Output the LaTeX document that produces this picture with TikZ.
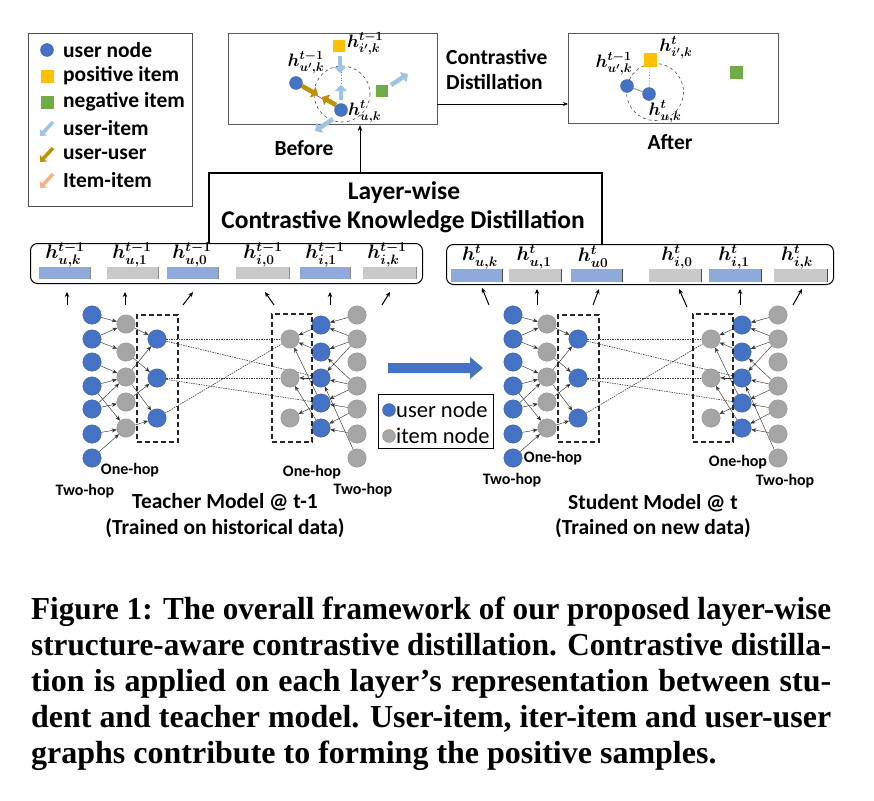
\RequirePackage{fix-cm}
\documentclass[tikz,border=0pt]{standalone}
\usepackage{fontspec}
\setsansfont{Carlito}
\newfontfamily\capfont{Liberation Serif}
\usetikzlibrary{arrows.meta,backgrounds}
\definecolor{ublue}{HTML}{4472C4}
\definecolor{igray}{HTML}{A5A5A5}
\definecolor{barblue}{HTML}{8EA9DB}
\definecolor{bargray}{HTML}{C9C9C9}
\definecolor{posyel}{HTML}{FFC000}
\definecolor{neggreen}{HTML}{70AD47}
\definecolor{uiarrow}{HTML}{9DC3E6}
\definecolor{uuarrow}{HTML}{BF9000}
\definecolor{iiarrow}{HTML}{F4B183}
\tikzset{
  unode/.style={circle,fill=ublue,draw=ublue!80!black,line width=0.3pt,minimum size=18.5pt,inner sep=0pt},
  inode/.style={circle,fill=igray,draw=igray!85!black,line width=0.3pt,minimum size=18.5pt,inner sep=0pt},
  sunode/.style={circle,fill=ublue,draw=ublue!80!black,line width=0.3pt,minimum size=13pt,inner sep=0pt},
  sinode/.style={circle,fill=igray,draw=igray!85!black,line width=0.3pt,minimum size=13pt,inner sep=0pt},
  gedge/.style={line width=0.45pt,draw=black!80,-{Stealth[length=5pt,width=4pt]}},
  crossline/.style={line width=0.65pt,draw=black!75,dash pattern=on 1.5pt off 1pt},
  dashbox/.style={draw=black!85,line width=1.6pt,dash pattern=on 5pt off 3pt,inner sep=0pt},
  lbl/.style={font=\sffamily\bfseries\fontsize{21.5}{24}\selectfont,inner sep=0pt},
  hop/.style={font=\sffamily\bfseries\fontsize{16}{18}\selectfont,inner sep=0pt},
  mlbl/.style={font=\fontsize{19.5}{21}\selectfont\boldmath,inner sep=0pt},
  smlbl/.style={font=\fontsize{18}{20}\selectfont\boldmath,inner sep=0pt},
  uparrow/.style={line width=1pt,-{Stealth[length=5pt,width=4.5pt]}},
  fatarrow/.style={line width=4.5pt,-{Triangle[length=6pt,width=12pt]}},
  smallfat/.style={line width=3.5pt,-{Triangle[length=5pt,width=9pt]}},
  sq/.style={rectangle,minimum size=12.5pt,inner sep=0pt},
  barb/.style={fill=barblue},
  barg/.style={fill=bargray},
  capline/.style={anchor=base west,inner sep=0pt,font=\capfont\bfseries\fontsize{32}{35}\selectfont},
}
\newsavebox{\capbox}
\newcommand{\capfit}[1]{%
  \sbox{\capbox}{#1}%
  \ifdim\wd\capbox>800pt
    \pgfmathsetmacro{\capsx}{800/\wd\capbox}%
    \scalebox{\capsx}[1]{\usebox{\capbox}}%
  \else
    \hbox to 800pt{#1}%
  \fi}
\newcommand{\gnnpart}[1]{%
  \foreach \yy [count=\i] in {315,339,362,386,409,434,458} {\node[unode] (#1a\i) at (92,\yy) {};}
  \foreach \yy [count=\i] in {324,352,377,402,428} {\node[inode] (#1b\i) at (126,\yy) {};}
  \foreach \yy [count=\i] in {339,378,418} {\node[unode] (#1c\i) at (157,\yy) {};}
  \foreach \yy [count=\i] in {339,378,418} {\node[inode] (#1d\i) at (290,\yy) {};}
  \foreach \yy [count=\i] in {325,352,378,403,428} {\node[unode] (#1e\i) at (321,\yy) {};}
  \foreach \yy [count=\i] in {315,339,362,386,409,434,458} {\node[inode] (#1f\i) at (357,\yy) {};}
  \node[dashbox,minimum width=41pt,minimum height=127pt] (#1lbox) at (157.5,378.5) {};
  \node[dashbox,minimum width=40pt,minimum height=128pt] (#1rbox) at (292,378) {};
  \begin{pgfonlayer}{background}
    \foreach \s/\t in {a1/b1,a2/b1,a2/b2,a3/b3,a4/b3,a5/b3,a4/b5,a6/b5,a7/b5,a5/b4,
                       b1/c1,b3/c1,b2/c2,b4/c2,b3/c3,b5/c3,
                       e1/d1,e2/d1,e4/d1,e3/d2,e5/d2,e4/d3,
                       f1/e1,f2/e1,f2/e2,f2/e3,f4/e2,f4/e3,f7/e3,f4/e4,f5/e4,f5/e5,f6/e5}
      {\draw[gedge] (#1\s) -- (#1\t);}
    \foreach \s/\t in {c1/d1,c1/e3,c2/d2,c2/e4,c3/d1}
      {\draw[crossline] (#1\s) -- (#1\t);}
  \end{pgfonlayer}
}
\begin{document}
\begin{tikzpicture}[x=1pt,y=-1pt]
\useasboundingbox (0,0) rectangle (874,800);
\begin{pgfonlayer}{background}
\fill[white] (0,0) rectangle (874,800);
\end{pgfonlayer}

% ---------- legend (top left)
\node[draw=black!70,line width=1.2pt,minimum width=164pt,minimum height=173pt,anchor=north west,inner sep=0pt] (legend) at (28,33) {};
\node[sunode] (lgu) at (47,50) {};
\node[sq,fill=posyel,minimum size=13pt] (lgp) at (47,76) {};
\node[sq,fill=neggreen,minimum size=13pt] (lgn) at (47,102) {};
\coordinate (lgui1) at (53,122); \coordinate (lgui2) at (40,136);
\coordinate (lguu1) at (53,148); \coordinate (lguu2) at (40,162);
\coordinate (lgii1) at (53,174); \coordinate (lgii2) at (40,188);
\draw[smallfat,uiarrow] (lgui1) -- (lgui2);
\draw[smallfat,uuarrow] (lguu1) -- (lguu2);
\draw[smallfat,iiarrow] (lgii1) -- (lgii2);
\node[lbl,anchor=west] (lt1) at (63,50) {user node};
\node[lbl,anchor=west] (lt2) at (63,76) {positive item};
\node[lbl,anchor=west] (lt3) at (63,102) {negative item};
\node[lbl,anchor=west] (lt4) at (63,128) {user-item};
\node[lbl,anchor=west] (lt5) at (63,154) {user-user};
\node[lbl,anchor=west] (lt6) at (63,180) {Item-item};

% ---------- Before box
\node[draw=black!65,line width=1pt,minimum width=209pt,minimum height=91pt,anchor=north west,inner sep=0pt] (before) at (228,33) {};
\draw[black!70,dashed,line width=0.6pt] (342,94) circle (28);
\node[sq,fill=posyel] (bpos) at (339,46) {};
\node[sq,fill=neggreen] (bneg) at (382,91) {};
\node[sunode] (bup) at (296,83) {};
\node[sunode] (bu) at (341,110) {};
\draw[violet,line width=0.5pt] (bup) -- (bu);
\coordinate (bd1) at (341,72); \coordinate (bd2) at (341,87);
\draw[black!50,dotted,line width=0.8pt] (bd1) -- (bd2);
\coordinate (ba1) at (340,56); \coordinate (ba2) at (340,73);
\coordinate (ba3) at (341,100); \coordinate (ba4) at (341,85);
\coordinate (ba5) at (391,85); \coordinate (ba6) at (408,74);
\coordinate (ba7) at (333,119); \coordinate (ba8) at (315,131);
\draw[fatarrow,uiarrow] (ba1) -- (ba2);
\draw[fatarrow,uiarrow] (ba3) -- (ba4);
\draw[fatarrow,uiarrow] (ba5) -- (ba6);
\draw[fatarrow,uiarrow] (ba7) -- (ba8);
\coordinate (bb1) at (302,86); \coordinate (bb2) at (318,95);
\coordinate (bb3) at (336,105); \coordinate (bb4) at (322,97);
\draw[fatarrow,uuarrow] (bb1) -- (bb2);
\draw[fatarrow,uuarrow] (bb3) -- (bb4);
\node[smlbl,anchor=west] (bl1) at (347,44) {$h^{t-1}_{i',k}$};
\node[smlbl] (bl2) at (306,63) {$h^{t-1}_{u',k}$};
\node[smlbl,anchor=west] (bl3) at (348,112) {$h^{t}_{u,k}$};
\node[lbl] (beforet) at (304,148) {Before};

% ---------- After box
\node[draw=black!65,line width=1pt,minimum width=210pt,minimum height=90pt,anchor=north west,inner sep=0pt] (after) at (568,33) {};
\draw[black!70,dashed,line width=0.6pt] (655,92) circle (28.5);
\node[sunode] (aup) at (627,86) {};
\node[sunode] (au) at (649,94) {};
\draw[black!40,line width=1pt] (aup) -- (au);
\node[sq,fill=posyel,minimum size=13pt] (apos) at (650,60) {};
\draw[black!50,dotted,line width=0.8pt] (apos) -- (au);
\node[sq,fill=neggreen,minimum size=13pt] (aneg) at (736,72) {};
\node[smlbl] (al1) at (676,48) {$h^{t}_{i',k}$};
\node[smlbl] (al2) at (614,64) {$h^{t-1}_{u',k}$};
\node[smlbl] (al3) at (665,112) {$h^{t}_{u,k}$};
\node[lbl] (aftert) at (670,142) {After};

% ---------- contrastive distillation arrow
\coordinate (cdA) at (437,104); \coordinate (cdB) at (568,104);
\draw[line width=0.9pt,-{Stealth[length=5pt,width=4pt]}] (cdA) -- (cdB);
\node[lbl,anchor=west] (cd1) at (446,57) {Contrastive};
\node[lbl,anchor=west] (cd2) at (446,82) {Distillation};

% ---------- layer-wise bracket
\node[draw=black,line width=1pt,rounded corners=7pt,minimum width=392pt,minimum height=40pt,anchor=north west,inner sep=0pt] (tbox) at (30,243) {};
\node[draw=black,line width=1pt,rounded corners=7pt,minimum width=387pt,minimum height=40pt,anchor=north west,inner sep=0pt] (sbox) at (446,244) {};
\coordinate (lw1) at (209,243); \coordinate (lw2) at (602,244);
\coordinate (lwm) at (360,173);
\draw[line width=1.3pt] (lw1) |- (lwm) -| (lw2);
\draw[line width=0.9pt,-{Stealth[length=6pt,width=4.5pt]}] (lwm) -- (before.south -| lwm);
\node[lbl,font=\sffamily\bfseries\fontsize{25.5}{28}\selectfont] (lwt1) at (404,193) {Layer-wise};
\node[lbl,font=\sffamily\bfseries\fontsize{25.5}{28}\selectfont] (lwt2) at (403,222) {Contrastive Knowledge Distillation};

% ---------- teacher bars
\foreach \xa/\xb/\st [count=\i] in {39/90/barb,107/158/barg,167/218/barb,236/289/barg,300/350/barb,363/416/barg}{
  \draw[\st,draw=none] (\xa,267) rectangle (\xb,279);
  \draw[black!45,line width=1pt] (\xb,267) -- (\xb,279);
}
\node[mlbl] (tl1) at (65,255) {$h^{t-1}_{u,k}$};
\node[mlbl] (tl2) at (132,255) {$h^{t-1}_{u,1}$};
\node[mlbl] (tl3) at (192,255) {$h^{t-1}_{u,0}$};
\node[mlbl] (tl4) at (263,255) {$h^{t-1}_{i,0}$};
\node[mlbl] (tl5) at (325,255) {$h^{t-1}_{i,1}$};
\node[mlbl] (tl6) at (387,255) {$h^{t-1}_{i,k}$};

% ---------- student bars
\foreach \xa/\xb/\st [count=\i] in {451/502/barb,509/561/barg,571/622/barb,649/701/barg,709/761/barb,774/827/barg}{
  \draw[\st,draw=none] (\xa,269) rectangle (\xb,282);
  \draw[black!70,line width=1pt] (\xb,269) -- (\xb,282);
}
\node[mlbl] (sl1) at (480,257) {$h^{t}_{u,k}$};
\node[mlbl] (sl2) at (534,257) {$h^{t}_{u,1}$};
\node[mlbl] (sl3) at (593,257) {$h^{t}_{u0}$};
\node[mlbl] (sl4) at (677,257) {$h^{t}_{i,0}$};
\node[mlbl] (sl5) at (734,257) {$h^{t}_{i,1}$};
\node[mlbl] (sl6) at (797,257) {$h^{t}_{i,k}$};

% ---------- small arrows to bars
\foreach \xa/\ya/\xb/\yb [count=\i] in {67/305/67/292,125/305/125/292,183/305/193/292,274/305/265/292,330/305/330/292,382/305/390/292,
  489/305/482/288,537/305/537/289,593/305/599/289,687/307/679/289,740/305/740/289,793/305/802/289}{
  \coordinate (ua\i) at (\xa,\ya); \coordinate (ub\i) at (\xb,\yb);
  \draw[uparrow] (ua\i) -- (ub\i);
}

% ---------- graphs
\gnnpart{t}
\begin{scope}[shift={(421,0)}]
\gnnpart{s}
\end{scope}

\node[hop] (th1) at (130,470) {One-hop};
\node[hop] (th2) at (85,491) {Two-hop};
\node[hop] (th3) at (312,472) {One-hop};
\node[hop] (th4) at (363,490) {Two-hop};
\node[hop] (sh1) at (553,458) {One-hop};
\node[hop] (sh2) at (512,480) {Two-hop};
\node[hop] (sh3) at (738,462) {One-hop};
\node[hop] (sh4) at (785,481) {Two-hop};

\node[lbl] (tm1) at (225,502) {Teacher Model @ t-1};
\node[lbl] (tm2) at (225,528) {(Trained on historical data)};
\node[lbl] (sm1) at (653,503) {Student Model @ t};
\node[lbl] (sm2) at (653,528) {(Trained on new data)};

% ---------- big arrow
\fill[ublue] (388,363) -- (470,363) -- (470,357) -- (483,368) -- (470,379) -- (470,373) -- (388,373) -- cycle;

% ---------- middle legend
\node[draw=black,line width=0.7pt,fill=white,minimum width=115pt,minimum height=54pt,anchor=north west,inner sep=0pt] (mleg) at (378,394) {};
\node[sunode] (mlu) at (389,410) {};
\node[sinode] (mli) at (389,436) {};
\node[anchor=west,inner sep=0pt,font=\sffamily\fontsize{22.5}{25}\selectfont] (mlt1) at (396,410) {user node};
\node[anchor=west,inner sep=0pt,font=\sffamily\fontsize{22.5}{25}\selectfont] (mlt2) at (396,436) {item node};

% ---------- caption
\node[capline] (c1) at (31,619) {\capfit{Figure 1: The overall framework of our proposed layer-wise}};
\node[capline] (c2) at (31,655) {\capfit{structure-aware contrastive distillation. Contrastive distilla-}};
\node[capline] (c3) at (31,691) {\capfit{tion is applied on each layer’s representation between stu-}};
\node[capline] (c4) at (31,727) {\capfit{dent and teacher model. User-item, iter-item and user-user}};
\node[capline] (c5) at (31,763) {graphs contribute to forming the positive samples.};
\end{tikzpicture}
\end{document}
